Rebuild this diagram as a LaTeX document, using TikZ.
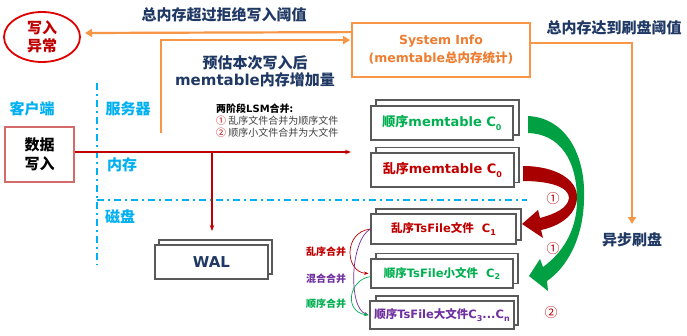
\documentclass[tikz,border=0pt]{standalone}
\usepackage{fontspec}
\setmainfont{Noto Sans CJK SC}
\newfontfamily\lat{DejaVu Sans}
\usetikzlibrary{arrows.meta,shapes.geometric}
\definecolor{navy}{HTML}{1F3864}
\definecolor{cyanz}{HTML}{00B0F0}
\definecolor{orangel}{HTML}{F79646}
\definecolor{oranget}{HTML}{ED7D31}
\definecolor{greenz}{HTML}{00B050}
\definecolor{greenar}{HTML}{00A043}
\definecolor{redd}{HTML}{C00000}
\definecolor{redar}{HTML}{A80000}
\definecolor{redb}{HTML}{E00000}
\definecolor{purplez}{HTML}{7030A0}
\definecolor{boxgray}{HTML}{595959}
\definecolor{databox}{HTML}{D46A6A}
\definecolor{notegray}{HTML}{404040}
\newcommand\La[1]{{\lat #1}}
\newcommand\fs[2]{\fontsize{#1}{#2}\selectfont}
\newcommand\sbs[1]{\raisebox{-0.25em}{\lat\fontsize{8}{8}\selectfont #1}}
\tikzset{
  lbl/.style={font=\bfseries\fs{15}{17}, text=navy, inner sep=0, align=center},
  zone/.style={font=\bfseries\fs{15}{17}, text=cyanz, inner sep=0},
  backbox/.style={draw=boxgray, line width=1.1pt, fill=white, inner sep=0},
  frontbox/.style={draw=boxgray, line width=1.1pt, fill=white, inner sep=0},
  oline/.style={draw=orangel, line width=2.2pt},
  otip/.style={-{Triangle[length=7pt,width=8pt]}},
  rline/.style={draw=redd, line width=1.4pt, -{Stealth[length=6pt,width=4.5pt]}},
  dd/.style={draw=cyanz, line width=1.6pt, dash pattern=on 7pt off 4pt on 2pt off 4pt},
  mlbl/.style={font=\bfseries\fs{10}{12}, inner sep=0},
  circ/.style={font=\fs{13}{13}, text=redd, inner sep=0},
  small/.style={line width=0.7pt, -{Stealth[length=4.5pt,width=3.5pt]}}
}
\begin{document}
\begin{tikzpicture}[x=1pt,y=-1pt]
\useasboundingbox (0,0) rectangle (687,335);
\fill[white] (0,0) rectangle (687,335);

% zone separators
\draw[dd] (97,83) -- (97,265);
\draw[dd] (97,200) -- (527,200);

% zone labels
\node[zone] (client) at (32,109) {客户端};
\node[zone] (server) at (128,109) {服务器};
\node[zone] (mem) at (122,165) {内存};
\node[zone] (disk) at (120,217) {磁盘};

% write exception
\node[ellipse, draw=redb, line width=1.8pt, minimum width=76pt, minimum height=50pt,
      inner sep=0, font=\bfseries\fs{15}{18}, text=redd, align=center] (ell) at (42,37) {写入\\异常};

% system info
\node[draw=orangel, line width=1.8pt, minimum width=178pt, minimum height=54pt, inner sep=0,
      font=\bfseries\fs{12.5}{18}, text=oranget, align=center] (sys) at (441,50)
      {\La{System Info}\\\La{(memtable}总内存统计\La{)}};

% texts
\node[lbl] (t1) at (224,15) {总内存超过拒绝写入阈值};
\node[lbl] (t2) at (255,71.5) {预估本次写入后\\\La{memtable}内存增加量};
\node[lbl] (t3) at (614,28) {总内存达到刷盘阈值};
\node[lbl] (t4) at (632,240) {异步刷盘};

\node[anchor=west, align=left, inner sep=0, font=\fs{10}{12}, text=notegray] (note) at (216,121)
  {\textbf{\color{black}两阶段\La{LSM}合并:}\\{\color{redd}①} 乱序文件合并为顺序文件\\{\color{redd}②} 顺序小文件合并为大文件};

% data write box
\node[draw=databox, line width=1.4pt, minimum width=69pt, minimum height=55pt, inner sep=0,
      font=\bfseries\fs{15}{19}, align=center] (data) at (39.5,154.5) {数据\\写入};

% memtables
\node[backbox, minimum width=143pt, minimum height=35pt] (m1b) at (447.5,117.5) {};
\node[frontbox, minimum width=142pt, minimum height=34pt, font=\bfseries\fs{13}{15}, text=greenz] (m1) at (442,123) {顺序\La{memtable C}\sbs{0}};
\node[backbox, minimum width=143pt, minimum height=35pt] (m2b) at (447.5,165) {};
\node[frontbox, minimum width=143pt, minimum height=34pt, font=\bfseries\fs{13}{15}, text=redd] (m2) at (442.5,170) {乱序\La{memtable C}\sbs{0}};

% tsfiles
\node[backbox, minimum width=145pt, minimum height=31pt] (f1b) at (448.5,224.5) {};
\node[frontbox, minimum width=145pt, minimum height=30pt, font=\bfseries\fs{11.5}{14}, text=redd] (f1) at (443.5,229) {乱序\La{TsFile}文件\La{\ \ C}\sbs{1}};
\node[backbox, minimum width=142pt, minimum height=30pt] (f2b) at (447,268.5) {};
\node[frontbox, minimum width=142pt, minimum height=29pt, font=\bfseries\fs{11.5}{14}, text=greenz] (f2) at (442,273.5) {顺序\La{TsFile}小文件\La{\ \ C}\sbs{2}};
\node[backbox, minimum width=142pt, minimum height=29pt] (f3b) at (447,310.5) {};
\node[frontbox, minimum width=144pt, minimum height=28pt, font=\bfseries\fs{11.5}{14}, text=purplez] (f3) at (442,315) {顺序\La{TsFile}大文件\La{C}\sbs{3}\La{...C}\sbs{n}};

% WAL
\node[backbox, minimum width=113pt, minimum height=34pt] (walb) at (215.5,257) {};
\node[frontbox, minimum width=113pt, minimum height=34pt, font=\bfseries\fs{15}{17}, text=navy] (wal) at (211.5,262) {\La{WAL}};

% merge labels
\node[mlbl, text=redd] (lm1) at (326,252) {乱序合并};
\node[mlbl, text=purplez] (lm2) at (326,279) {混合合并};
\node[mlbl, text=greenz] (lm3) at (326,304) {顺序合并};

% orange connectors
\coordinate (e1) at (85,33);
\coordinate (c2s) at (161,133);
\coordinate (c3) at (632,224);
\draw[oline, otip] ([yshift=-10pt]sys.north west) -- (e1);
\draw[oline, otip, shorten >=1pt] (c2s) |- ([yshift=-18pt]sys.north west);
\draw[oline, otip] ([yshift=-21pt]sys.north east) -| (c3);

% red write connectors
\coordinate (c4) at (351,152);
\coordinate (j) at (212,152);
\coordinate (c5) at (212,231);
\draw[rline] ([yshift=2.5pt]data.east) -- (c4);
\draw[rline] (j) -- (c5);

% small merge arrows
\draw[small, draw=redd] (f1.west) .. controls (343,232) and (345,272) .. ([xshift=-2pt]f2.west);
\draw[small, draw=purplez] (f1.west) .. controls (350,240) and (348,308) .. ([xshift=-1pt]f3.west);
\draw[small, draw=greenz] ([yshift=-3pt]f2.west) .. controls (348,280) and (344,312) .. ([xshift=-1pt]f3.west);

% big red arrow (flush)
\fill[redar] (523,166) .. controls (556,166) and (578,180) .. (577,198)
  .. controls (576,215) and (560,226) .. (541,230) -- (543,238) -- (522,224) -- (538,210)
  -- (540,218) .. controls (555,214) and (568,208) .. (569,198)
  .. controls (569,187) and (550,181) .. (523,181) -- cycle;

% big green arrow (merge)
\fill[greenar] (528,116) .. controls (566,118) and (586,155) .. (584,200)
  .. controls (583,240) and (566,268) .. (547,281) -- (548,291) -- (529,276) -- (540,259)
  -- (543,267) .. controls (561,254) and (577,232) .. (577,200)
  .. controls (577,160) and (560,134) .. (528,133) -- cycle;

% circled numbers
\node[circ] (n1) at (553,199) {①};
\node[circ] (n2) at (553,249) {①};
\node[circ] (n3) at (551,313) {②};
\end{tikzpicture}
\end{document}
